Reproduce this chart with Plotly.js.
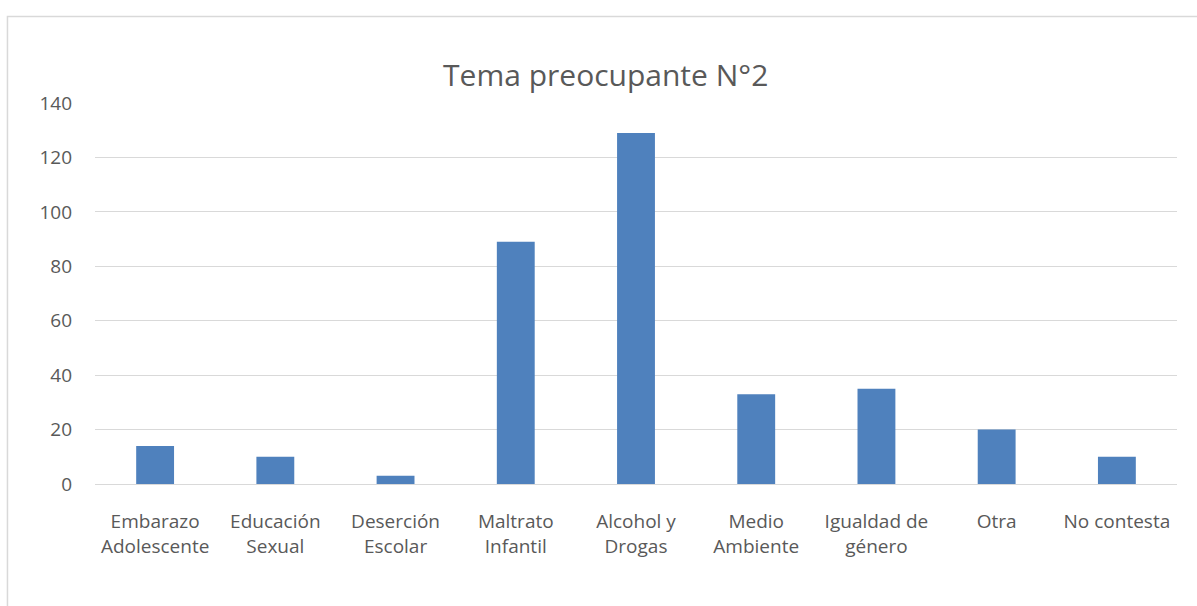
<!DOCTYPE html>
<html><head><meta charset="utf-8">
<script src="https://cdn.plot.ly/plotly-3.0.1.min.js"></script>
<style>html,body{margin:0;padding:0;background:#fff}#c{width:1197px;height:606px}</style>
</head><body><div id="c"></div>
<script>
const categories = ["Embarazo<br>Adolescente","Educación<br>Sexual","Deserción<br>Escolar","Maltrato<br>Infantil","Alcohol y<br>Drogas","Medio<br>Ambiente","Igualdad de<br>género","Otra","No contesta"];
const values = [14, 10, 3, 89, 129, 33, 35, 20, 10];
const yTicks = [0, 20, 40, 60, 80, 100, 120, 140];

const font = "Open Sans, Liberation Sans, sans-serif";
Plotly.newPlot('c', [{
  type: 'bar', x: categories, y: values,
  marker: {color: '#4F81BD', line: {width: 0}},
  hoverinfo: 'none'
}], {
  width: 1197, height: 606,
  margin: {l: 95, r: 20, t: 103, b: 122},
  paper_bgcolor: '#fff', plot_bgcolor: '#fff',
  bargap: 0.685,
  showlegend: false,
  title: {text: 'Tema preocupante N°2', font: {family: font, size: 30, color: '#595959'},
          x: 0.506, xref: 'container', xanchor: 'center', y: 0.876, yref: 'container', yanchor: 'middle'},
  xaxis: {type: 'category', tickfont: {family: font, size: 19, color: '#595959'},
          showgrid: false, showline: true, linecolor: '#D9D9D9', linewidth: 1, ticks: '', ticklabelstandoff: 20, fixedrange: true},
  yaxis: {range: [0, 140], tickvals: yTicks, ticktext: yTicks.map(String),
          tickfont: {family: font, size: 19, color: '#595959'},
          showgrid: true, gridcolor: '#D9D9D9', gridwidth: 1, zeroline: false, showline: false, ticks: '', ticklabelstandoff: 22, fixedrange: true},
  shapes: [{type: 'rect', xref: 'paper', yref: 'paper', x0: -0.0809, x1: 1.2, y0: -0.6, y1: 1.227,
            line: {color: '#D9D9D9', width: 1.5}, fillcolor: 'rgba(0,0,0,0)', layer: 'below'}]
}, {displayModeBar: false, staticPlot: true});
</script></body></html>
